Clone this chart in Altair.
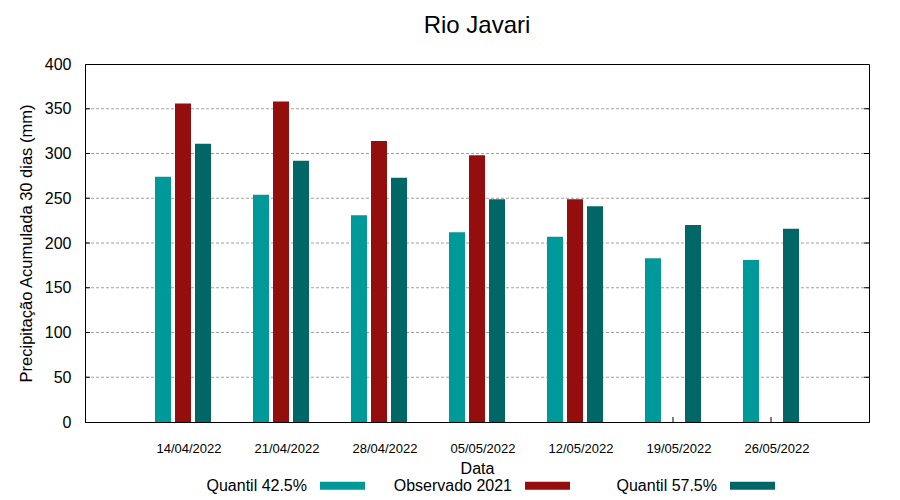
import altair as alt
import pandas as pd

# ---- data ----
dates = ["14/04/2022", "21/04/2022", "28/04/2022", "05/05/2022",
         "12/05/2022", "19/05/2022", "26/05/2022"]
quantil_425 = [274, 254, 231, 212, 207, 183, 181]
observado_2021 = [356, 358, 314, 298, 249, None, None]
quantil_575 = [311, 292, 273, 249, 241, 220, 216]

series = ["Quantil 42.5%", "Observado 2021", "Quantil 57.5%"]
colors = ["#009999", "#940e0e", "#006666"]
y_tick_values = [0, 50, 100, 150, 200, 250, 300, 350, 400]
grid_values = [50, 100, 150, 200, 250, 300, 350]

rows = []
for i, d in enumerate(dates):
    for s, vals in zip(series, [quantil_425, observado_2021, quantil_575]):
        if vals[i] is not None:
            rows.append({"Data": d, "Serie": s, "Valor": vals[i]})
df = pd.DataFrame(rows)
df_dates = pd.DataFrame({"Data": dates})
df_grid = pd.DataFrame({"v": grid_values})

W, H = 784, 358
FONT = "Liberation Sans"

x_scale = alt.Scale(domain=dates, paddingInner=0.408, paddingOuter=0.704)
y_scale = alt.Scale(domain=[0, 400], nice=False)

x_axis = alt.Axis(title="Data", labelAngle=0, labelFontSize=13, ticks=False,
                  labelPadding=20, labelOffset=6, titleFontSize=16, titlePadding=5,
                  titleFontWeight="normal", domainColor="black", zindex=1,
                  labelColor="black", titleColor="black")
y_axis = alt.Axis(title="Precipitação Acumulada 30 dias (mm)", values=y_tick_values,
                  grid=False, ticks=False, labelPadding=14, labelFontSize=16,
                  titleFontSize=16.5, titleFontWeight="normal", titlePadding=10,
                  domainColor="black", zindex=1, labelColor="black", titleColor="black")

X = alt.X("Data:N", scale=x_scale, sort=dates, axis=x_axis)

grid = alt.Chart(df_grid).mark_rule(color="#a0a0a0", strokeDash=[3, 2], strokeWidth=1).encode(
    y=alt.Y("v:Q", scale=y_scale, axis=y_axis)
)
ticks_left = alt.Chart(df_grid).mark_rule(color="black", strokeWidth=1).encode(
    y=alt.Y("v:Q", scale=y_scale, axis=y_axis), x=alt.value(0), x2=alt.value(5)
)
ticks_right = alt.Chart(df_grid).mark_rule(color="black", strokeWidth=1).encode(
    y=alt.Y("v:Q", scale=y_scale, axis=y_axis), x=alt.value(W - 5), x2=alt.value(W)
)
ticks_bottom = alt.Chart(df_dates).mark_rule(color="black", strokeWidth=1).encode(
    x=X, y=alt.value(H), y2=alt.value(H - 5)
)

bars = alt.Chart(df).mark_bar().encode(
    x=X,
    xOffset=alt.XOffset("Serie:N", scale=alt.Scale(domain=series, paddingInner=0.2, paddingOuter=0.05)),
    y=alt.Y("Valor:Q", scale=y_scale, axis=y_axis),
    color=alt.Color(
        "Serie:N",
        scale=alt.Scale(domain=series, range=colors),
        legend=alt.Legend(
            orient="none", legendX=235, legendY=399, direction="horizontal", columns=3,
            gridAlign="all", columnPadding=28, labelAlign="right",
            labelOffset={"expr": "-58"},
            symbolType="M-1,-0.178H1V0.178H-1Z", symbolSize=2025, symbolStrokeWidth=0,
            symbolOpacity=1, labelFontSize=16, labelColor="black", title=None, padding=0,
            labelLimit=0,
        ),
    ),
)

chart = alt.layer(grid, ticks_left, ticks_right, ticks_bottom, bars).properties(
    width=W,
    height=H,
    title=alt.Title("Rio Javari", fontSize=24, fontWeight="normal", offset=18,
                    anchor="middle", color="black", font=FONT),
    autosize=alt.AutoSizeParams(type="none"),
    padding={"left": 77, "top": 56, "right": 15, "bottom": 78},
).configure_view(stroke="black", strokeWidth=1).configure_axis(
    labelFont=FONT, titleFont=FONT
).configure_legend(labelFont=FONT).configure_title(font=FONT)

chart.save("out.html", embed_options={"renderer": "svg", "actions": False})
